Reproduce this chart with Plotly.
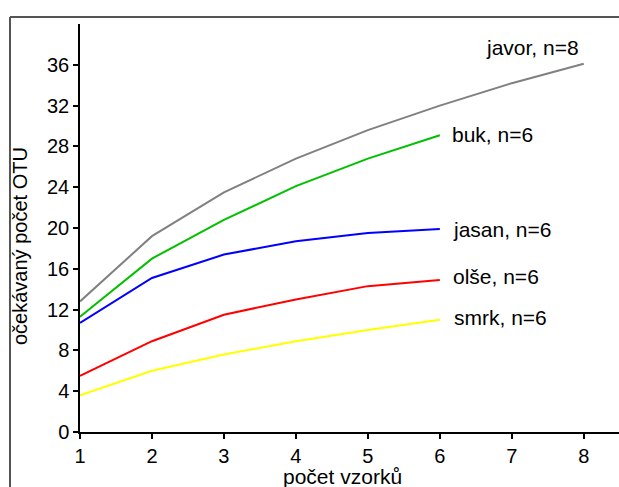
import plotly.graph_objects as go

x_javor = [1, 2, 3, 4, 5, 6, 7, 8]
javor = [12.8, 19.2, 23.5, 26.8, 29.6, 32.0, 34.2, 36.1]
x_six = [1, 2, 3, 4, 5, 6]
buk = [11.3, 17.0, 20.8, 24.1, 26.8, 29.1]
jasan = [10.7, 15.1, 17.4, 18.7, 19.5, 19.9]
olse = [5.5, 8.9, 11.5, 13.0, 14.3, 14.9]
smrk = [3.6, 6.0, 7.6, 8.9, 10.0, 11.0]

y_ticks = [0, 4, 8, 12, 16, 20, 24, 28, 32, 36]
x_ticks = [1, 2, 3, 4, 5, 6, 7, 8]

series = [
    ("javor, n=8", x_javor, javor, "#808080"),
    ("buk, n=6", x_six, buk, "#00c000"),
    ("jasan, n=6", x_six, jasan, "#0000ff"),
    ("olše, n=6", x_six, olse, "#ff0000"),
    ("smrk, n=6", x_six, smrk, "#ffff00"),
]

FONT = "Liberation Sans, Arial, sans-serif"

fig = go.Figure()
for name, xs, ys, col in series:
    fig.add_trace(go.Scatter(x=xs, y=ys, mode="lines", name=name,
                             line=dict(color=col, width=2), showlegend=False))

# end-of-line labels
label_offsets = {
    "javor, n=8": dict(xanchor="right", xshift=-3, yshift=16),
    "buk, n=6": dict(xanchor="left", xshift=10, yshift=1),
    "jasan, n=6": dict(xanchor="left", xshift=11, yshift=0),
    "olše, n=6": dict(xanchor="left", xshift=11, yshift=4),
    "smrk, n=6": dict(xanchor="left", xshift=12, yshift=2),
}
for name, xs, ys, col in series:
    o = label_offsets[name]
    fig.add_annotation(x=xs[-1], y=ys[-1], xref="x", yref="y", text=name,
                       showarrow=False, yanchor="middle",
                       font=dict(family=FONT, size=21, color="black"), **o)

# axis titles
fig.add_annotation(text="počet vzorků", xref="paper", yref="paper",
                   x=(342 - 80) / 539, y=(432 - 476) / 408, xanchor="center", yanchor="middle",
                   showarrow=False, font=dict(family=FONT, size=21, color="black"))
fig.add_annotation(text="očekávaný počet OTU", xref="paper", yref="paper",
                   x=(20 - 80) / 539, y=(432 - 246) / 408, xanchor="center", yanchor="middle",
                   textangle=-90, showarrow=False, font=dict(family=FONT, size=20, color="black"))

# outer frame (left and top edges visible; right/bottom lie outside the picture)
fx0 = (10 - 80) / 539
fy1 = (432 - 17) / 408
fig.add_shape(type="line", xref="paper", yref="paper", x0=fx0, x1=fx0, y0=-0.5, y1=fy1,
              line=dict(color="#555555", width=2), layer="below")
fig.add_shape(type="line", xref="paper", yref="paper", x0=fx0, x1=1.5, y0=fy1, y1=fy1,
              line=dict(color="#555555", width=2), layer="below")

fig.update_layout(
    width=619, height=487,
    margin=dict(l=80, r=0, t=24, b=55),
    paper_bgcolor="white", plot_bgcolor="white",
    font=dict(family=FONT, size=20, color="black"),
    xaxis=dict(range=[1, 8.49], tickvals=x_ticks, ticktext=[str(v) for v in x_ticks],
               showgrid=False, zeroline=False, showline=True, linecolor="black", linewidth=1.5,
               ticks="outside", ticklen=5, tickcolor="black", tickwidth=1.5,
               tickfont=dict(family=FONT, size=20, color="black")),
    yaxis=dict(range=[0, 40], tickvals=y_ticks, ticktext=[str(v) for v in y_ticks],
               showgrid=False, zeroline=False, showline=True, linecolor="black", linewidth=1.5,
               ticks="outside", ticklen=5, tickcolor="black", tickwidth=1.5,
               tickfont=dict(family=FONT, size=20, color="black")),
)

fig.write_html("out.html")
